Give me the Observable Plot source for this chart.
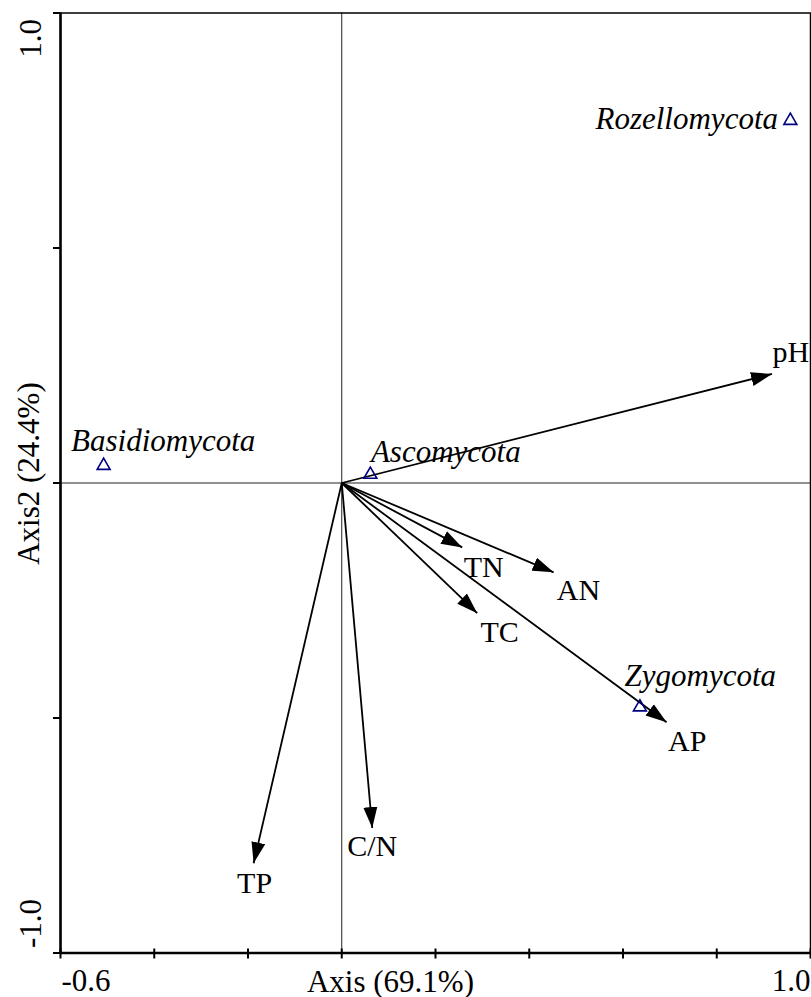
<!DOCTYPE html>
<html>
<head>
<meta charset="utf-8">
<script src="https://cdn.jsdelivr.net/npm/d3@7"></script>
<script src="https://cdn.jsdelivr.net/npm/@observablehq/plot@0.6"></script>
<style>
  html, body { margin: 0; padding: 0; background: #fff; }
  #chart svg { display: block; }
  #chart svg, #chart svg text { font-family: "Liberation Serif", "Times New Roman", serif !important; }
</style>
</head>
<body>
<div id="chart"></div>
<script>
// ---- Environmental variable arrows (tips) ----
const envNames = ["pH", "TN", "AN", "TC", "AP", "TP", "C/N"];
const envX = [0.918, 0.257, 0.452, 0.289, 0.693, -0.188, 0.065];
const envY = [0.232, -0.137, -0.190, -0.277, -0.509, -0.809, -0.734];
// label positions (data units)
const envLabelX = [0.958, 0.303, 0.505, 0.337, 0.737, -0.186, 0.065];
const envLabelY = [0.277, -0.180, -0.228, -0.317, -0.549, -0.851, -0.773];

// ---- Fungal phyla (triangles) ----
const phylaNames = ["Rozellomycota", "Basidiomycota", "Ascomycota", "Zygomycota"];
const phylaX = [0.957, -0.508, 0.061, 0.636];
const phylaY = [0.771, 0.037, 0.018, -0.477];
const phylaLabelX = [0.736, -0.381, 0.222, 0.765];
const phylaLabelY = [0.774, 0.090, 0.066, -0.410];

// ---- Axes ----
const xTickValues = [-0.6, -0.4, -0.2, 0, 0.2, 0.4, 0.6, 0.8, 1.0];
const yTickValues = [-1.0, -0.5, 0, 0.5, 1.0];
const xTickLabelValues = [-0.6, 1.0];
const xTickLabelTexts = ["-0.6", "1.0"];
const yTickLabelValues = [1.0, -1.0];
const yTickLabelTexts = ["1.0", "-1.0"];
const xTitle = "Axis (69.1%)";
const yTitle = "Axis2 (24.4%)";

const arrows = envNames.map((name, i) => ({name, x: envX[i], y: envY[i], lx: envLabelX[i], ly: envLabelY[i]}));
const phyla = phylaNames.map((name, i) => ({name, x: phylaX[i], y: phylaY[i], lx: phylaLabelX[i], ly: phylaLabelY[i]}));
const xTL = xTickLabelValues.map((v, i) => ({v, t: xTickLabelTexts[i]}));
const yTL = yTickLabelValues.map((v, i) => ({v, t: yTickLabelTexts[i]}));

function filledArrow(color, context) {
  const doc = (context && context.document) || document;
  const ns = "http://www.w3.org/2000/svg";
  const m = doc.createElementNS(ns, "marker");
  m.setAttribute("viewBox", "-21 -7.5 21 15");
  m.setAttribute("markerWidth", 21);
  m.setAttribute("markerHeight", 15);
  m.setAttribute("markerUnits", "userSpaceOnUse");
  m.setAttribute("orient", "auto");
  m.setAttribute("refX", 0);
  m.setAttribute("refY", 0);
  const p = doc.createElementNS(ns, "path");
  p.setAttribute("d", "M-21,-7L0,0L-21,7Z");
  p.setAttribute("fill", color);
  p.setAttribute("stroke", "none");
  m.appendChild(p);
  m.node = () => m;
  return m;
}

const font = "Liberation Serif";

const chart = Plot.plot({
  width: 811,
  height: 997,
  marginLeft: 60,
  marginRight: 1,
  marginTop: 12.5,
  marginBottom: 44.5,
  x: {domain: [-0.6, 1.0], axis: null},
  y: {domain: [-1, 1], axis: null},
  style: {fontFamily: font, fontSize: "30px", background: "#fff", color: "#000", overflow: "visible"},
  marks: [
    // center cross lines
    Plot.ruleX([0], {y1: -1, y2: 1, stroke: "#222", strokeWidth: 1}),
    Plot.ruleY([0], {x1: -0.6, x2: 1.0, stroke: "#222", strokeWidth: 1}),
    // frame & axes
    Plot.frame({stroke: "#000", strokeWidth: 1.5}),
    Plot.ruleX([-0.6], {y1: -1, y2: 1, stroke: "#000", strokeWidth: 2.5}),
    Plot.ruleY([-1], {x1: -0.6, x2: 1.0, stroke: "#000", strokeWidth: 2.5}),
    Plot.ruleX(xTickValues, {y1: -1, y2: -1, insetTop: -4, insetBottom: -6, stroke: "#000", strokeWidth: 2}),
    Plot.ruleY(yTickValues, {x1: -0.6, x2: -0.6, insetLeft: -7, stroke: "#000", strokeWidth: 2}),
    // tick labels
    Plot.text(xTL.slice(0, 1), {x: "v", y: -1, text: "t", textAnchor: "start", dx: 1, dy: 28.5, lineAnchor: "middle", fontSize: 31, fontFamily: font}),
    Plot.text(xTL.slice(1), {x: "v", y: -1, text: "t", textAnchor: "end", dx: 0, dy: 28.5, lineAnchor: "middle", fontSize: 31, fontFamily: font}),
    Plot.text(yTL.slice(0, 1), {x: -0.6, y: "v", text: "t", rotate: -90, textAnchor: "end", dx: -29, dy: 6, lineAnchor: "middle", fontSize: 31, fontFamily: font}),
    Plot.text(yTL.slice(1), {x: -0.6, y: "v", text: "t", rotate: -90, textAnchor: "start", dx: -29, dy: -5, lineAnchor: "middle", fontSize: 31, fontFamily: font}),
    // axis titles
    Plot.text([xTitle], {frameAnchor: "bottom", text: d => d, textAnchor: "middle", dx: -45, dy: 29, lineAnchor: "middle", fontSize: 31, fontFamily: font}),
    Plot.text([yTitle], {frameAnchor: "left", text: d => d, textAnchor: "middle", rotate: -90, dx: -31, dy: -9.5, lineAnchor: "middle", fontSize: 31, fontFamily: font}),
    // arrows
    Plot.link(arrows, {x1: 0, y1: 0, x2: "x", y2: "y", stroke: "#000", strokeWidth: 1.8, markerEnd: filledArrow}),
    Plot.text(arrows, {x: "lx", y: "ly", text: "name", fontSize: 30, lineAnchor: "middle", fill: "#000", fontFamily: font}),
    // phyla
    Plot.dot(phyla, {x: "x", y: "y", symbol: "triangle", r: 4.8, stroke: "#000080", strokeWidth: 1.6, fill: "none"}),
    Plot.text(phyla, {x: "lx", y: "ly", text: "name", fontSize: 31, fontStyle: "italic", lineAnchor: "middle", fill: "#000", fontFamily: font})
  ]
});

document.getElementById("chart").appendChild(chart);
</script>
</body>
</html>
